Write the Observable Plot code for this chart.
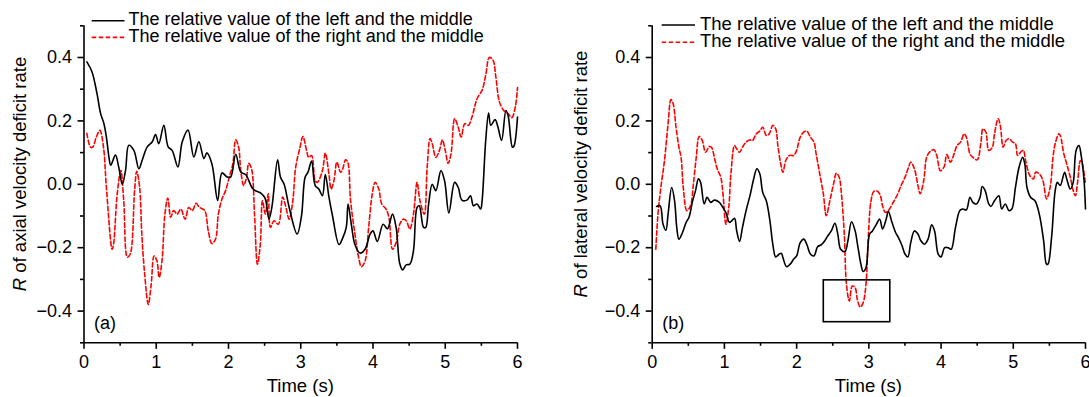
<!DOCTYPE html>
<html><head><meta charset="utf-8">
<script src="https://cdn.jsdelivr.net/npm/d3@7"></script>
<script src="https://cdn.jsdelivr.net/npm/@observablehq/plot@0.6"></script>
<style>
body{margin:0;background:#fff;}
#wrap{display:flex;width:1089px;height:397px;}
#wrap svg{overflow:visible;display:block;}
</style></head><body><div id="wrap"></div>
<script>
const xMajor = [0, 1, 2, 3, 4, 5, 6];
const xMinor = [0.5, 1.5, 2.5, 3.5, 4.5, 5.5];
const yMajor = [-0.4, -0.2, 0, 0.2, 0.4];
const yMinor = [-0.5, -0.3, -0.1, 0.1, 0.3, 0.5];
const seriesNames = ["The relative value of the left and the middle", "The relative value of the right and the middle"];
const xTitle = "Time (s)";
const yTitleA = " of axial velocity deficit rate";
const yTitleB = " of lateral velocity deficit rate";

// Panel (a): axial
const aLeft = [[0.04,0.386],[0.11,0.355],[0.18,0.286],[0.23,0.223],[0.275,0.192],[0.31,0.149],[0.345,0.086],[0.37,0.060],[0.435,0.092],[0.48,0.055],[0.53,0.0],[0.575,0.044],[0.62,0.123],[0.69,0.107],[0.76,0.049],[0.805,0.076],[0.875,0.118],[0.945,0.134],[0.99,0.157],[1.035,0.128],[1.105,0.186],[1.165,0.118],[1.22,0.107],[1.30,0.055],[1.36,0.134],[1.44,0.171],[1.52,0.086],[1.59,0.134],[1.66,0.081],[1.70,0.099],[1.77,0.065],[1.85,-0.051],[1.91,0.036],[1.98,0.023],[2.03,0.023],[2.10,0.095],[2.17,0.039],[2.24,0.03],[2.34,-0.015],[2.46,-0.03],[2.51,-0.046],[2.56,-0.11],[2.60,-0.073],[2.68,0.077],[2.72,0.022],[2.77,0.0],[2.84,-0.073],[2.95,-0.157],[3.01,-0.10],[3.06,0.022],[3.10,0.038],[3.15,0.073],[3.20,-0.004],[3.25,-0.015],[3.30,-0.036],[3.34,0.031],[3.39,-0.04],[3.44,-0.10],[3.53,-0.19],[3.58,-0.17],[3.63,-0.136],[3.655,-0.062],[3.70,-0.126],[3.75,-0.19],[3.82,-0.217],[3.89,-0.205],[3.96,-0.157],[4.0,-0.147],[4.06,-0.18],[4.14,-0.126],[4.20,-0.14],[4.27,-0.094],[4.32,-0.136],[4.37,-0.25],[4.41,-0.27],[4.46,-0.254],[4.51,-0.252],[4.56,-0.21],[4.61,-0.073],[4.64,-0.068],[4.70,-0.136],[4.73,-0.136],[4.77,-0.062],[4.82,0.0],[4.87,-0.02],[4.94,0.043],[4.99,0.012],[5.05,-0.09],[5.13,0.006],[5.18,-0.01],[5.23,-0.05],[5.30,-0.05],[5.35,-0.036],[5.39,-0.068],[5.44,-0.062],[5.49,-0.078],[5.51,-0.052],[5.56,0.138],[5.60,0.225],[5.63,0.186],[5.69,0.204],[5.73,0.18],[5.78,0.138],[5.84,0.233],[5.87,0.217],[5.93,0.117],[5.95,0.12],[6.0,0.212]];
const aRight = [[0.04,0.161],[0.09,0.117],[0.12,0.117],[0.17,0.149],[0.22,0.17],[0.27,0.117],[0.31,-0.01],[0.39,-0.205],[0.41,-0.187],[0.46,-0.03],[0.51,0.043],[0.55,-0.052],[0.60,-0.23],[0.64,-0.22],[0.70,-0.02],[0.73,0.041],[0.77,-0.01],[0.80,-0.157],[0.84,-0.284],[0.89,-0.379],[0.93,-0.316],[0.97,-0.226],[1.01,-0.242],[1.04,-0.294],[1.08,-0.24],[1.12,-0.094],[1.16,-0.043],[1.20,-0.104],[1.24,-0.083],[1.29,-0.094],[1.34,-0.078],[1.40,-0.11],[1.45,-0.073],[1.50,-0.083],[1.55,-0.06],[1.60,-0.073],[1.67,-0.083],[1.72,-0.147],[1.77,-0.187],[1.82,-0.173],[1.86,-0.094],[1.91,-0.046],[1.96,-0.02],[2.01,0.022],[2.06,0.064],[2.10,0.14],[2.14,0.117],[2.17,0.043],[2.21,-0.004],[2.25,0.022],[2.28,0.066],[2.32,0.048],[2.36,-0.094],[2.40,-0.252],[2.44,-0.19],[2.47,-0.052],[2.51,-0.094],[2.55,-0.03],[2.58,-0.136],[2.63,-0.115],[2.69,-0.126],[2.75,-0.04],[2.79,-0.068],[2.84,-0.11],[2.89,-0.052],[2.93,0.054],[2.99,0.117],[3.03,0.151],[3.08,0.107],[3.11,0.085],[3.15,0.091],[3.20,0.012],[3.23,0.006],[3.30,0.043],[3.34,0.098],[3.39,0.033],[3.42,-0.015],[3.46,0.012],[3.50,0.07],[3.55,0.038],[3.58,0.048],[3.62,0.077],[3.65,0.07],[3.69,-0.052],[3.75,-0.157],[3.80,-0.23],[3.84,-0.26],[3.89,-0.242],[3.94,-0.136],[3.99,-0.03],[4.03,0.006],[4.08,-0.015],[4.12,-0.062],[4.18,-0.078],[4.22,-0.104],[4.27,-0.205],[4.32,-0.184],[4.37,-0.126],[4.42,-0.11],[4.46,-0.115],[4.51,-0.141],[4.56,-0.094],[4.61,0.006],[4.65,-0.052],[4.71,-0.094],[4.75,0.054],[4.79,0.144],[4.82,0.128],[4.87,0.085],[4.92,0.107],[4.96,0.14],[5.00,0.107],[5.04,0.066],[5.08,0.096],[5.13,0.207],[5.18,0.18],[5.22,0.149],[5.27,0.191],[5.32,0.186],[5.37,0.212],[5.44,0.27],[5.51,0.297],[5.56,0.344],[5.61,0.40],[5.66,0.392],[5.70,0.339],[5.75,0.26],[5.81,0.233],[5.87,0.223],[5.92,0.21],[5.97,0.244],[6.0,0.305]];

// Panel (b): lateral
const bLeft = [[0.06,-0.07],[0.11,-0.068],[0.15,-0.126],[0.19,-0.145],[0.22,-0.094],[0.27,-0.01],[0.31,-0.052],[0.34,-0.136],[0.37,-0.173],[0.42,-0.152],[0.47,-0.12],[0.51,-0.104],[0.56,-0.052],[0.60,-0.02],[0.64,0.017],[0.67,0.006],[0.72,-0.062],[0.76,-0.041],[0.81,-0.057],[0.86,-0.05],[0.93,-0.057],[0.97,-0.07],[1.02,-0.089],[1.07,-0.12],[1.10,-0.115],[1.14,-0.107],[1.17,-0.147],[1.21,-0.18],[1.25,-0.136],[1.30,-0.083],[1.36,-0.03],[1.40,0.012],[1.45,0.049],[1.49,0.033],[1.53,-0.025],[1.58,-0.052],[1.63,-0.115],[1.67,-0.189],[1.71,-0.229],[1.76,-0.22],[1.79,-0.218],[1.81,-0.231],[1.86,-0.26],[1.91,-0.252],[1.96,-0.236],[2.00,-0.226],[2.05,-0.184],[2.10,-0.173],[2.14,-0.189],[2.19,-0.22],[2.24,-0.226],[2.29,-0.197],[2.34,-0.191],[2.39,-0.178],[2.43,-0.163],[2.48,-0.147],[2.53,-0.123],[2.57,-0.157],[2.61,-0.205],[2.67,-0.212],[2.71,-0.178],[2.76,-0.118],[2.81,-0.147],[2.85,-0.2],[2.89,-0.252],[2.92,-0.275],[2.96,-0.263],[3.01,-0.157],[3.05,-0.147],[3.10,-0.128],[3.15,-0.11],[3.19,-0.141],[3.24,-0.11],[3.27,-0.085],[3.32,-0.12],[3.37,-0.152],[3.41,-0.168],[3.46,-0.194],[3.50,-0.22],[3.54,-0.229],[3.58,-0.184],[3.63,-0.147],[3.68,-0.157],[3.72,-0.178],[3.77,-0.189],[3.82,-0.173],[3.87,-0.128],[3.91,-0.147],[3.96,-0.22],[4.00,-0.229],[4.05,-0.2],[4.10,-0.2],[4.14,-0.205],[4.20,-0.136],[4.26,-0.083],[4.30,-0.078],[4.35,-0.081],[4.40,-0.041],[4.44,-0.057],[4.49,-0.062],[4.54,-0.041],[4.57,-0.007],[4.61,-0.02],[4.66,-0.062],[4.69,-0.07],[4.74,-0.052],[4.80,-0.036],[4.84,-0.078],[4.89,-0.062],[4.94,-0.083],[4.98,-0.078],[5.03,-0.01],[5.08,0.054],[5.13,0.085],[5.16,0.064],[5.19,-0.01],[5.24,-0.041],[5.30,-0.052],[5.36,-0.094],[5.42,-0.178],[5.46,-0.252],[5.48,-0.252],[5.53,-0.168],[5.58,-0.02],[5.61,0.006],[5.65,-0.004],[5.71,0.038],[5.74,0.017],[5.79,-0.015],[5.83,0.006],[5.87,0.107],[5.91,0.122],[5.94,0.091],[5.98,0.012],[6.0,-0.078]];
const bRight = [[0.05,-0.205],[0.08,-0.094],[0.12,-0.01],[0.17,0.075],[0.22,0.191],[0.26,0.267],[0.29,0.254],[0.33,0.18],[0.37,0.117],[0.40,0.085],[0.43,-0.01],[0.48,-0.083],[0.53,-0.068],[0.57,0.0],[0.61,0.085],[0.65,0.151],[0.69,0.14],[0.74,0.101],[0.79,0.119],[0.82,0.117],[0.87,0.075],[0.90,0.049],[0.95,0.022],[0.98,-0.03],[1.02,-0.126],[1.06,-0.073],[1.09,0.033],[1.14,0.122],[1.17,0.112],[1.21,0.101],[1.25,0.117],[1.30,0.133],[1.35,0.14],[1.39,0.138],[1.44,0.159],[1.49,0.168],[1.53,0.18],[1.58,0.154],[1.62,0.159],[1.67,0.186],[1.71,0.175],[1.74,0.122],[1.78,0.064],[1.81,0.038],[1.85,0.075],[1.90,0.091],[1.96,0.091],[2.00,0.107],[2.05,0.149],[2.10,0.165],[2.14,0.168],[2.19,0.149],[2.24,0.133],[2.27,0.096],[2.32,0.033],[2.37,-0.03],[2.41,-0.099],[2.46,-0.052],[2.51,0.0],[2.55,0.035],[2.59,0.022],[2.62,-0.03],[2.66,-0.157],[2.69,-0.316],[2.73,-0.368],[2.77,-0.321],[2.81,-0.326],[2.84,-0.363],[2.88,-0.387],[2.92,-0.374],[2.96,-0.316],[2.99,-0.178],[3.03,-0.052],[3.07,-0.022],[3.12,-0.022],[3.16,-0.036],[3.19,-0.068],[3.23,-0.089],[3.27,-0.083],[3.33,-0.06],[3.40,-0.03],[3.45,-0.002],[3.50,0.022],[3.55,0.054],[3.58,0.07],[3.63,0.049],[3.68,-0.004],[3.71,-0.03],[3.76,0.012],[3.80,0.085],[3.85,0.104],[3.90,0.109],[3.94,0.091],[3.99,0.043],[4.04,0.054],[4.08,0.094],[4.13,0.07],[4.18,0.096],[4.22,0.122],[4.27,0.133],[4.32,0.159],[4.35,0.149],[4.40,0.096],[4.44,0.085],[4.50,0.077],[4.55,0.128],[4.58,0.175],[4.62,0.165],[4.66,0.107],[4.71,0.117],[4.74,0.159],[4.79,0.207],[4.82,0.186],[4.86,0.117],[4.90,0.138],[4.94,0.144],[4.99,0.133],[5.03,0.128],[5.06,0.091],[5.10,0.101],[5.14,0.107],[5.17,0.075],[5.23,0.027],[5.28,0.017],[5.31,0.038],[5.36,0.033],[5.41,0.012],[5.46,-0.046],[5.51,-0.01],[5.55,0.085],[5.58,0.128],[5.63,0.159],[5.65,0.154],[5.70,0.096],[5.74,0.064],[5.79,0.022],[5.83,-0.02],[5.86,-0.036],[5.89,0.006],[5.93,0.075],[5.95,0.07],[6.0,0.0]];
const bBox = [{x1: 2.376, x2: 3.297, y1: -0.435, y2: -0.303}];

const FONT = "'Liberation Sans', Arial, Helvetica, sans-serif";
const RED = "#ff0000";

function panel(cfg) {
  const marks = [
    Plot.ruleX([0], {y1: -0.5, y2: 0.5, stroke: "black", strokeWidth: 1.6}),
    Plot.ruleY([-0.5], {x1: 0, x2: 6, stroke: "black", strokeWidth: 1.6}),
    Plot.axisX({ticks: xMajor, tickSize: 6.5, tickPadding: 6, strokeWidth: 1.6, tickFormat: d3.format("d"), label: null}),
    Plot.axisX({ticks: xMinor, tickSize: 3.5, strokeWidth: 1.6, tickFormat: () => "", label: null}),
    Plot.axisY({ticks: yMajor, tickSize: 6, tickPadding: 6, strokeWidth: 1.6, tickFormat: d3.format(".1f"), label: null}),
    Plot.axisY({ticks: yMinor, tickSize: 3.5, strokeWidth: 1.6, tickFormat: () => "", label: null}),
    Plot.line(cfg.right, {x: d => d[0], y: d => d[1], stroke: RED, strokeWidth: 1.6, strokeDasharray: "4.5,2.5", curve: "catmull-rom"}),
    Plot.line(cfg.left, {x: d => d[0], y: d => d[1], stroke: "black", strokeWidth: 1.6, curve: "catmull-rom"})
  ];
  if (cfg.box) marks.push(Plot.rect(cfg.box, {x1: "x1", x2: "x2", y1: "y1", y2: "y2", fill: "none", stroke: "black", strokeWidth: 1.6}));
  const chart = Plot.plot({
    width: cfg.width, height: 397,
    marginLeft: cfg.ml, marginRight: cfg.mr, marginTop: 25.3, marginBottom: 54.7,
    x: {domain: [0, 6]}, y: {domain: [-0.5, 0.5]},
    style: {fontFamily: FONT, fontSize: "18px", color: "black", background: "white", overflow: "visible"},
    marks
  });
  const svg = d3.select(chart);
  const xs = chart.scale("x");
  const x0 = xs.apply(0), x6 = xs.apply(6);
  const txt = (x, y, s, fs, anchor) => svg.append("text").attr("x", x).attr("y", y)
    .attr("text-anchor", anchor || "start").attr("font-family", FONT).attr("font-size", fs || 18)
    .attr("fill", "black").text(s);
  // x title
  txt((x0 + x6) / 2, 392, xTitle, 18.5, "middle");
  // y title
  const yt = svg.append("text").attr("transform", `translate(${cfg.ylx},174) rotate(-90)`)
    .attr("text-anchor", "middle").attr("font-family", FONT).attr("font-size", 18.5).attr("fill", "black");
  yt.append("tspan").attr("font-style", "italic").text("R");
  yt.append("tspan").text(cfg.ytitle);
  // panel letter
  txt(x0 + 10.5, 328.5, cfg.letter, 18);
  // legend
  const L = cfg.leg;
  svg.append("line").attr("x1", L.lx1).attr("x2", L.lx2).attr("y1", L.y1).attr("y2", L.y1)
    .attr("stroke", "black").attr("stroke-width", 1.6);
  svg.append("line").attr("x1", L.lx1).attr("x2", L.lx2).attr("y1", L.y2).attr("y2", L.y2)
    .attr("stroke", RED).attr("stroke-width", 1.6).attr("stroke-dasharray", "4.5,2.5");
  txt(L.tx, L.y1 + 4.6, seriesNames[0], L.fs);
  txt(L.tx, L.y2 + 4.6, seriesNames[1], L.fs);
  return chart;
}

const wrap = document.getElementById("wrap");
wrap.append(panel({width: 560, ml: 83.5, mr: 43, left: aLeft, right: aRight, ylx: 25.5, ytitle: yTitleA, letter: "(a)",
  leg: {lx1: 91.7, lx2: 124.5, tx: 128.5, y1: 20.7, y2: 37.4, fs: 18}}));
wrap.append(panel({width: 529, ml: 91.7, mr: 4, left: bLeft, right: bRight, box: bBox, ylx: 26.5, ytitle: yTitleB, letter: "(b)",
  leg: {lx1: 101.7, lx2: 135, tx: 140, y1: 25, y2: 42.3, fs: 18.5}}));
</script></body></html>
